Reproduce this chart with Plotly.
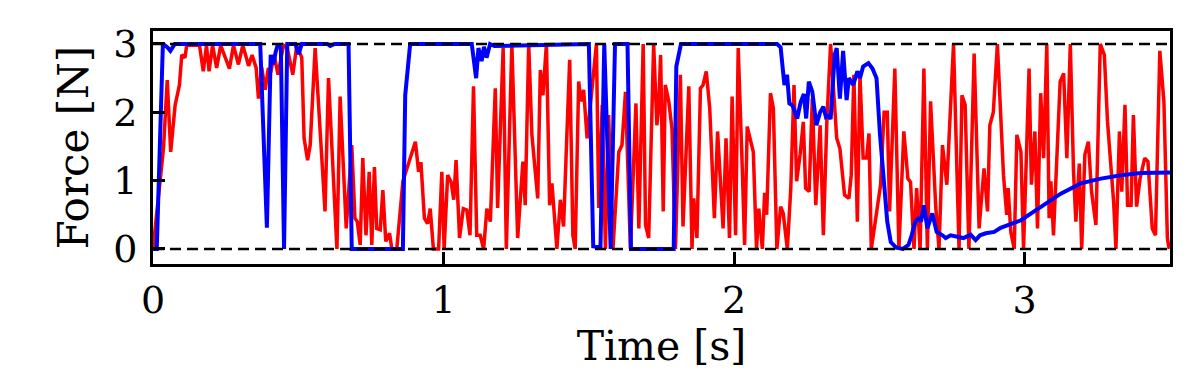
import plotly.graph_objects as pg

# red force trace (time [s], force [N])
red_t = [0.000, 0.036, 0.049, 0.061, 0.076, 0.091, 0.099, 0.110, 0.116, 0.160, 0.173, 0.184, 0.193, 0.205,
         0.219, 0.233, 0.263, 0.277, 0.294, 0.309, 0.329, 0.341, 0.355, 0.363, 0.374, 0.386, 0.397, 0.405,
         0.417, 0.430, 0.449, 0.462, 0.481, 0.495, 0.512, 0.520, 0.532, 0.541, 0.558,
         0.592, 0.604, 0.633, 0.644, 0.665, 0.684, 0.695, 0.703, 0.713, 0.722, 0.733, 0.744, 0.753, 0.762,
         0.770, 0.782, 0.791, 0.801, 0.814, 0.822, 0.839, 0.860, 0.903, 0.914, 0.922, 0.934, 0.945, 0.954,
         0.965, 0.983, 0.994, 1.002, 1.014, 1.026, 1.035, 1.043, 1.055, 1.068, 1.080, 1.091, 1.103, 1.114,
         1.126, 1.138, 1.149, 1.161,
         1.178, 1.186, 1.205, 1.216, 1.235, 1.255, 1.273, 1.281, 1.293, 1.304, 1.324, 1.333, 1.342, 1.354,
         1.365, 1.373, 1.390, 1.402, 1.413, 1.423, 1.434, 1.445, 1.453, 1.465, 1.473, 1.482, 1.494, 1.526,
         1.534, 1.546, 1.557, 1.568, 1.583, 1.603, 1.614, 1.626, 1.643, 1.662, 1.672, 1.687, 1.695, 1.706,
         1.723, 1.734, 1.740, 1.747,
         1.756, 1.763, 1.775, 1.786, 1.798, 1.815, 1.824, 1.844, 1.855, 1.861, 1.872, 1.884, 1.893, 1.904,
         1.916, 1.932, 1.943, 1.962, 1.972, 1.984, 1.993, 2.005, 2.014, 2.028, 2.036, 2.045, 2.066, 2.077,
         2.085, 2.097, 2.105, 2.112, 2.125, 2.135, 2.147, 2.160, 2.169, 2.183, 2.195, 2.206, 2.215, 2.227,
         2.238, 2.246, 2.258, 2.269, 2.281, 2.296, 2.307, 2.319, 2.332,
         2.353, 2.364, 2.380, 2.395, 2.403, 2.412, 2.424, 2.433, 2.444, 2.456, 2.464, 2.472, 2.504, 2.516,
         2.527, 2.535, 2.553, 2.567, 2.584, 2.598, 2.607, 2.619, 2.628, 2.640, 2.653, 2.665, 2.676, 2.694,
         2.705, 2.717, 2.732, 2.755, 2.774, 2.784, 2.795, 2.808, 2.826, 2.843, 2.860, 2.872, 2.880, 2.892,
         2.906, 2.917,
         2.927, 2.938, 2.943, 2.952, 2.964, 2.973, 2.987, 2.996, 3.015, 3.023, 3.035, 3.044, 3.055, 3.065,
         3.076, 3.084, 3.090, 3.099, 3.107, 3.122, 3.134, 3.145, 3.157, 3.168, 3.176, 3.188, 3.196, 3.207,
         3.219, 3.230, 3.245, 3.260, 3.274, 3.285, 3.306, 3.314, 3.326, 3.334, 3.345, 3.354, 3.366, 3.374,
         3.385, 3.397, 3.413, 3.424, 3.439, 3.450, 3.465, 3.479, 3.491, 3.497]
red_f = [0.00, 1.47, 2.47, 1.42, 2.10, 2.40, 2.84, 2.80, 2.98, 2.98, 2.60, 2.98, 2.60, 2.98,
         2.65, 2.98, 2.64, 2.98, 2.70, 2.98, 2.68, 2.84, 2.65, 2.20, 2.66, 2.33, 2.65, 2.58,
         2.84, 2.55, 2.98, 2.94, 2.55, 2.98, 2.80, 1.62, 1.30, 1.52, 2.94,
         0.55, 2.50, 0.00, 2.23, 0.30, 1.52, 0.45, 0.40, 0.06, 1.33, 0.20, 1.13, 0.06, 1.20,
         0.30, 0.28, 0.86, 0.11, 0.23, 0.00, 0.00, 0.99, 1.57, 1.13, 1.27, 0.45, 0.37, 0.59,
         0.00, 0.00, 1.13, 0.00, 1.08, 0.98, 0.72, 1.30, 0.16, 0.59, 0.57, 0.20, 2.38, 0.20,
         0.20, 0.00, 0.59, 0.40,
         2.35, 0.60, 2.94, 0.00, 3.00, 0.16, 1.28, 0.64, 3.00, 1.67, 0.74, 2.62, 2.25, 3.00,
         0.64, 0.96, 0.00, 0.72, 0.33, 1.52, 2.77, 0.20, 0.00, 2.45, 2.16, 2.33, 1.62, 3.00,
         0.60, 2.11, 0.00, 1.96, 0.00, 1.42, 1.52, 2.30, 0.00, 2.13, 0.30, 3.00, 0.35, 0.16,
         3.00, 1.81, 2.06, 2.84,
         0.55, 2.40, 2.16, 1.76, 0.00, 2.55, 0.33, 2.38, 0.00, 0.74, 0.16, 2.35, 2.40, 2.60,
         2.06, 0.45, 1.72, 0.30, 1.62, 0.16, 2.23, 0.20, 2.94, 1.18, 0.06, 1.79, 1.42, 0.00,
         0.59, 0.00, 0.82, 0.50, 2.28, 2.06, 0.00, 0.62, 0.52, 0.00, 0.89, 2.40, 0.99, 1.38,
         1.86, 0.89, 0.84, 2.20, 0.64, 1.81, 0.20, 1.86, 3.00,
         1.62, 1.47, 0.79, 0.74, 1.08, 2.55, 0.40, 2.55, 1.33, 1.33, 1.69, 0.00, 0.94, 2.00,
         2.00, 0.55, 2.64, 0.00, 1.72, 1.03, 0.98, 0.00, 0.89, 0.00, 2.64, 0.00, 2.16, 0.60,
         0.00, 1.52, 0.94, 3.00, 0.00, 2.25, 2.11, 0.00, 2.86, 0.30, 1.18, 0.55, 1.81, 2.00,
         3.00, 2.00,
         1.08, 0.50, 0.89, 0.25, 0.00, 1.67, 1.42, 0.00, 2.64, 0.94, 1.72, 0.30, 2.28, 1.33,
         3.00, 0.45, 0.99, 0.20, 1.08, 2.45, 2.57, 1.33, 3.00, 1.13, 0.40, 1.25, 0.00, 1.38,
         1.57, 0.84, 0.35, 3.00, 2.84, 1.86, 0.69, 0.00, 1.72, 0.84, 2.11, 0.64, 0.64, 1.96,
         0.62, 1.03, 1.33, 1.28, 0.30, 0.20, 2.90, 2.16, 0.16, 0.00]

# blue force trace
blue_t = [0.000, 0.013, 0.034, 0.050, 0.060, 0.075, 0.369, 0.392, 0.405, 0.414, 0.422, 0.430, 0.440, 0.451,
          0.462, 0.490, 0.501, 0.512, 0.600, 0.610, 0.625, 0.673, 0.684, 0.860, 0.868, 0.885, 1.097, 1.112,
          1.120, 1.131, 1.139, 1.148, 1.160, 1.175, 1.500, 1.515, 1.540, 1.553, 1.575, 1.590, 1.633, 1.645,
          1.792, 1.801, 1.817, 2.148, 2.160, 2.173, 2.182, 2.190, 2.201, 2.217, 2.229, 2.240, 2.248, 2.257,
          2.269, 2.283, 2.296, 2.307, 2.316, 2.326, 2.332, 2.346, 2.353, 2.364, 2.375, 2.387, 2.395, 2.410,
          2.424, 2.433, 2.444, 2.462, 2.476, 2.490, 2.502, 2.516, 2.527, 2.539, 2.558, 2.581, 2.600, 2.611,
          2.623, 2.634, 2.643, 2.653, 2.665, 2.682, 2.697, 2.717, 2.728, 2.745, 2.765, 2.789, 2.814, 2.831,
          2.846, 2.866, 2.895, 2.917, 2.987, 3.055, 3.124, 3.193, 3.262, 3.331, 3.400, 3.500]
blue_f = [0.00, 0.00, 3.00, 2.95, 2.90, 3.00, 3.00, 0.31, 2.84, 2.70, 2.88, 3.00, 2.95, 0.00,
          3.00, 3.00, 2.85, 3.00, 3.00, 2.97, 3.00, 3.00, 0.00, 0.00, 2.25, 3.00, 3.00, 2.50,
          2.94, 2.75, 2.96, 2.80, 3.00, 2.97, 3.00, 0.04, 0.02, 3.00, 0.00, 3.00, 3.00, 0.00,
          0.00, 2.67, 3.00, 3.00, 2.95, 2.40, 2.55, 2.13, 2.10, 1.91, 2.15, 2.27, 1.91, 2.45,
          2.30, 1.81, 2.00, 2.08, 1.93, 1.95, 1.90, 2.84, 2.94, 2.20, 2.90, 2.18, 2.50, 2.40,
          2.60, 2.50, 2.67, 2.72, 2.64, 2.50, 1.67, 0.94, 0.40, 0.10, 0.02, 0.00, 0.06, 0.20,
          0.40, 0.45, 0.40, 0.64, 0.30, 0.52, 0.25, 0.20, 0.16, 0.20, 0.18, 0.16, 0.21, 0.13,
          0.20, 0.23, 0.25, 0.31, 0.42, 0.62, 0.81, 0.96, 1.03, 1.08, 1.11, 1.12]

x_ticks = [0, 1, 2, 3]
y_ticks = [0, 1, 2, 3]
limits = [0, 3]

serif = "DejaVu Serif"

fig = pg.Figure()
fig.add_trace(pg.Scatter(x=red_t, y=red_f, mode="lines", line=dict(color="#ff0000", width=3.5)))
fig.add_trace(pg.Scatter(x=blue_t, y=blue_f, mode="lines", line=dict(color="#0000ff", width=4)))

# dashed saturation limits, drawn over the traces
for lim in limits:
    fig.add_hline(y=lim, line=dict(color="black", width=2.5, dash="11px,6px"), layer="above")

axis_style = dict(showline=True, mirror=True, linecolor="black", linewidth=3,
                  ticks="inside", ticklen=12, tickwidth=2.5, tickcolor="black",
                  showgrid=False, zeroline=False, automargin=False,
                  tickfont=dict(family=serif, size=38, color="black"))

fig.update_xaxes(range=[0, 3.5], tickvals=x_ticks, ticklabelstandoff=0,
                 title=dict(text="Time [s]", font=dict(family=serif, size=41, color="black"), standoff=0),
                 **axis_style)
fig.update_yaxes(range=[-0.22, 3.19], tickvals=y_ticks, ticklabelstandoff=5,
                 title=dict(text="Force [N]", font=dict(family=serif, size=42, color="black"), standoff=12),
                 **axis_style)

fig.update_layout(width=1196, height=376, showlegend=False,
                  plot_bgcolor="white", paper_bgcolor="white",
                  margin=dict(l=145, r=34, t=23, b=120))

fig.write_html("out.html")
